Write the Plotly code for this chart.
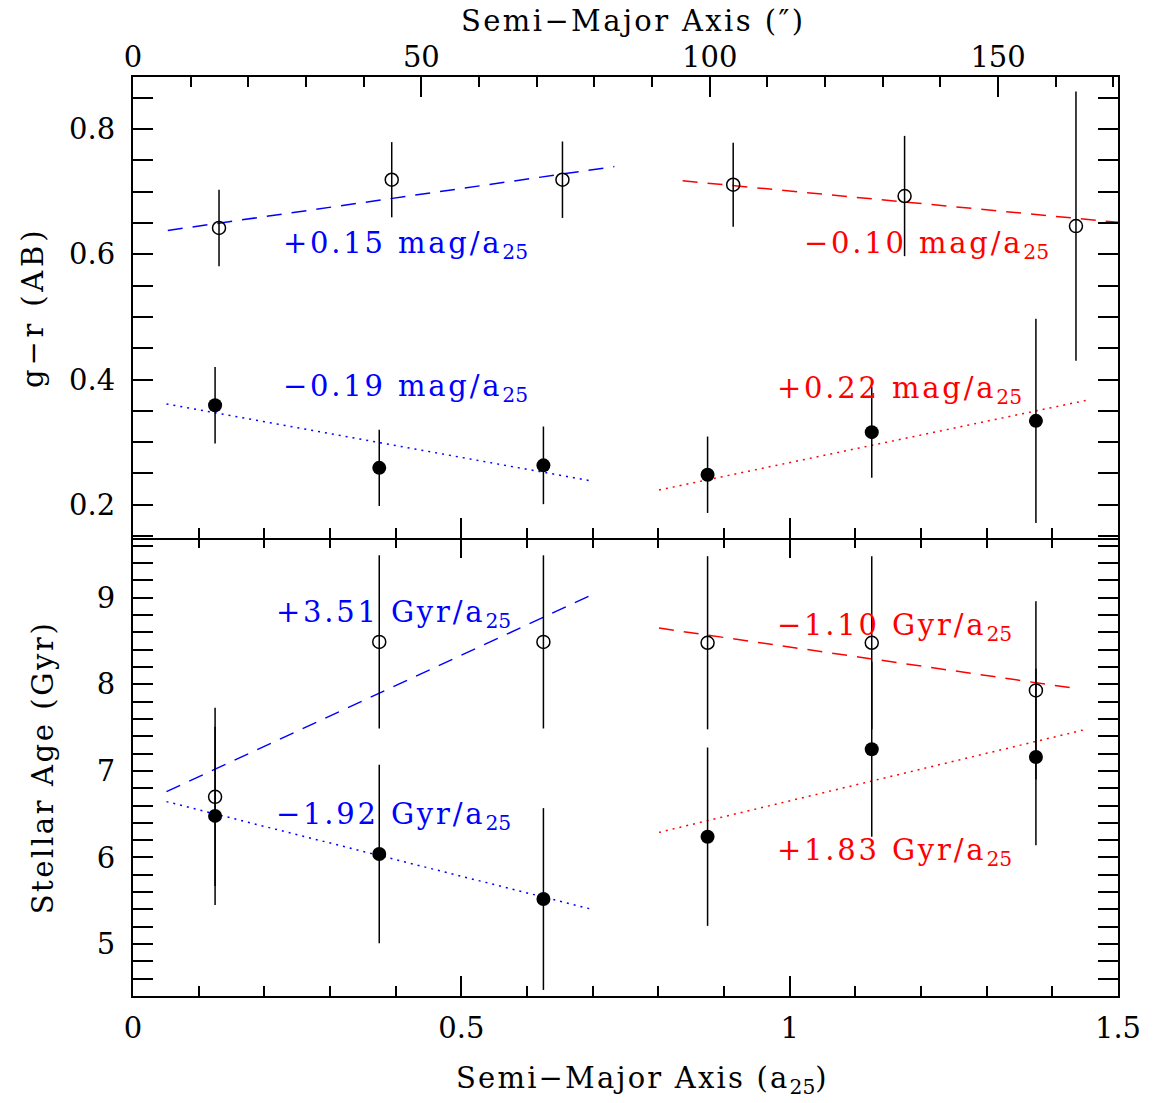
import plotly.graph_objects as go

# ---------------- data ----------------
# g-r colour panel (top)
x_gr_open = [0.131, 0.394, 0.654, 0.914, 1.175, 1.436]
gr_open = [0.642, 0.719, 0.719, 0.711, 0.693, 0.645]
gr_open_err = [0.061, 0.060, 0.061, 0.067, 0.096, 0.215]

x_gr_fill = [0.125, 0.375, 0.625, 0.875, 1.125, 1.375]
gr_fill = [0.359, 0.259, 0.263, 0.248, 0.316, 0.334]
gr_fill_err = [0.061, 0.061, 0.062, 0.061, 0.073, 0.163]

# stellar age panel (bottom)
x_age = [0.125, 0.375, 0.625, 0.875, 1.125, 1.375]
age_open = [6.70, 8.49, 8.49, 8.48, 8.48, 7.93]
age_open_err = [1.03, 1.00, 1.00, 1.00, 1.00, 1.03]
age_fill = [6.48, 6.04, 5.52, 6.24, 7.25, 7.16]
age_fill_err = [1.03, 1.03, 1.05, 1.03, 1.01, 1.02]

# linear fits: panel, colour, style, x-range, intercept, slope, unit
fit_panel = ["top", "top", "top", "top", "bottom", "bottom", "bottom", "bottom"]
fit_color = ["blue", "blue", "red", "red", "blue", "blue", "red", "red"]
fit_style = ["dash", "dot", "dash", "dot", "dash", "dot", "dash", "dot"]
fit_x0 = [0.053, 0.051, 0.837, 0.801, 0.051, 0.051, 0.801, 0.801]
fit_x1 = [0.733, 0.699, 1.500, 1.453, 0.702, 0.696, 1.434, 1.448]
fit_intercept = [0.630, 0.3707, 0.801, 0.0474, 6.581, 6.743, 9.531, 4.824]
fit_slope = [0.15, -0.19, -0.10, 0.22, 3.51, -1.92, -1.10, 1.83]
fit_unit = ["mag", "mag", "mag", "mag", "Gyr", "Gyr", "Gyr", "Gyr"]
# label anchor (left edge, vertical middle) in data coordinates
fit_label_x = [0.226, 0.226, 1.019, 0.977, 0.215, 0.215, 0.977, 0.977]
fit_label_y = [0.615, 0.387, 0.615, 0.384, 8.815, 6.48, 8.665, 6.06]

# axes
x_range = [0, 1.5]
x_ticks = [0, 0.5, 1, 1.5]
x_ticklabels = ["0", "0.5", "1", "1.5"]
arcsec_range = [0, 170.8]
arcsec_ticks = [0, 50, 100, 150]
gr_range = [0.147, 0.883]
gr_ticks = [0.2, 0.4, 0.6, 0.8]
age_range = [4.40, 9.69]
age_ticks = [5, 6, 7, 8, 9]

# ---------------- figure ----------------
FONT = "DejaVu Serif"
FS = 29
MINUS = "\u2212"
SUB25 = '<sub><span style="letter-spacing:0px">25</span></sub>'


def spaced(txt, px=2.7):
    return f'<span style="letter-spacing:{px}px">{txt}</span>'


fig = go.Figure()

panel_axes = {"top": ("x", "y"), "bottom": ("x2", "y2")}

# fit lines
for i in range(len(fit_slope)):
    xa, ya = panel_axes[fit_panel[i]]
    xs = [fit_x0[i], fit_x1[i]]
    ys = [fit_intercept[i] + fit_slope[i] * v for v in xs]
    dash = "15px,10px" if fit_style[i] == "dash" else "2px,5px"
    fig.add_trace(go.Scatter(x=xs, y=ys, mode="lines", xaxis=xa, yaxis=ya,
                             line=dict(color=fit_color[i], width=1.5, dash=dash),
                             showlegend=False, hoverinfo="skip"))


def points(xv, yv, ev, xa, ya, filled):
    marker = dict(size=14, color="black", symbol="circle") if filled else \
        dict(size=13, color="black", symbol="circle-open",
             line=dict(color="black", width=1.5))
    return go.Scatter(x=xv, y=yv, mode="markers", xaxis=xa, yaxis=ya,
                      marker=marker,
                      error_y=dict(type="data", array=ev, visible=True,
                                   color="black", thickness=1.5, width=0),
                      showlegend=False)


fig.add_trace(points(x_gr_open, gr_open, gr_open_err, "x", "y", False))
fig.add_trace(points(x_gr_fill, gr_fill, gr_fill_err, "x", "y", True))
fig.add_trace(points(x_age, age_open, age_open_err, "x2", "y2", False))
fig.add_trace(points(x_age, age_fill, age_fill_err, "x2", "y2", True))

# invisible traces to make overlay axes exist
fig.add_trace(go.Scatter(x=arcsec_range, y=gr_range, xaxis="x3", yaxis="y",
                         mode="markers", marker=dict(opacity=0), showlegend=False,
                         hoverinfo="skip"))
fig.add_trace(go.Scatter(x=x_range, y=age_range, xaxis="x4", yaxis="y2",
                         mode="markers", marker=dict(opacity=0), showlegend=False,
                         hoverinfo="skip"))

# fit labels
for i in range(len(fit_slope)):
    xa, ya = panel_axes[fit_panel[i]]
    s = f"{fit_slope[i]:+.2f}".replace("-", MINUS)
    txt = spaced(f"{s} {fit_unit[i]}/a", 2.8) + SUB25
    fig.add_annotation(x=fit_label_x[i], y=fit_label_y[i], xref=xa, yref=ya,
                       text=txt, showarrow=False, xanchor="left", yanchor="middle",
                       font=dict(family=FONT, size=FS, color=fit_color[i]))

common_tick = dict(ticks="inside", ticklen=20, tickwidth=1.5, tickcolor="black",
                   showgrid=False, zeroline=False,
                   tickfont=dict(family=FONT, size=FS, color="black"))
minor_x = dict(dtick=0.1, ticks="inside", ticklen=10, tickwidth=1.5,
               tickcolor="black")

dom_split = 458 / 919

fig.update_layout(
    width=1153, height=1103,
    margin=dict(l=133, r=31, t=77, b=107),
    paper_bgcolor="white", plot_bgcolor="white",
    xaxis=dict(domain=[0, 1], range=x_range, anchor="y", tickvals=x_ticks,
               showticklabels=False, showline=True, linewidth=2,
               linecolor="black", mirror=True, minor=minor_x, **common_tick),
    yaxis=dict(domain=[dom_split, 1], range=gr_range, anchor="x",
               tickvals=gr_ticks, ticktext=[f"{v:.1f}" for v in gr_ticks],
               showline=True, linewidth=2, linecolor="black",
               mirror="allticks", ticklabelstandoff=10,
               minor=dict(dtick=0.05, tick0=0, ticks="inside", ticklen=10,
                          tickwidth=1.5, tickcolor="black"),
               **common_tick),
    xaxis2=dict(domain=[0, 1], range=x_range, anchor="y2", tickvals=x_ticks,
                ticktext=x_ticklabels, showline=True, linewidth=2,
                linecolor="black", mirror=False, ticklabelstandoff=5,
                minor=minor_x, **common_tick),
    yaxis2=dict(domain=[0, dom_split], range=age_range, anchor="x2",
                tickvals=age_ticks, showline=True, linewidth=2,
                linecolor="black", mirror="allticks", ticklabelstandoff=10,
                minor=dict(dtick=0.2, tick0=0, ticks="inside", ticklen=10,
                           tickwidth=1.5, tickcolor="black"),
                **common_tick),
    xaxis3=dict(overlaying="x", side="top", anchor="y", range=arcsec_range,
                tickvals=arcsec_ticks, ticklabelstandoff=3, showline=False,
                minor=dict(dtick=10, ticks="inside", ticklen=10, tickwidth=1.5,
                           tickcolor="black"),
                **common_tick),
    xaxis4=dict(overlaying="x2", side="top", anchor="y2", range=x_range,
                tickvals=x_ticks, showticklabels=False, showline=False,
                minor=minor_x, **common_tick),
)

# axis titles
title_font = dict(family=FONT, size=FS, color="black")
fig.add_annotation(x=(32 - 133) / 989, y=(1 + dom_split) / 2, xref="paper",
                   yref="paper", text=spaced(f"g{MINUS}r (AB)", 3.8),
                   textangle=-90, showarrow=False,
                   xanchor="center", yanchor="middle", font=title_font)
fig.add_annotation(x=(43 - 133) / 989, y=dom_split / 2, xref="paper",
                   yref="paper", text=spaced("Stellar Age (Gyr)", 2.6),
                   textangle=-90, showarrow=False,
                   xanchor="center", yanchor="middle", font=title_font)
fig.add_annotation(x=(645 - 133) / 989, y=-0.0914, xref="paper", yref="paper",
                   text=spaced("Semi\u2212Major Axis (a", 2.2) + SUB25
                   + spaced(")", 2.2),
                   showarrow=False, xanchor="center", yanchor="middle",
                   font=title_font)
fig.add_annotation(x=(635 - 133) / 989, y=(996 - 21) / 919, xref="paper",
                   yref="paper",
                   text=spaced("Semi\u2212Major Axis (\u2033)", 2.4),
                   showarrow=False, xanchor="center", yanchor="middle",
                   font=title_font)

fig.write_html("out.html")
